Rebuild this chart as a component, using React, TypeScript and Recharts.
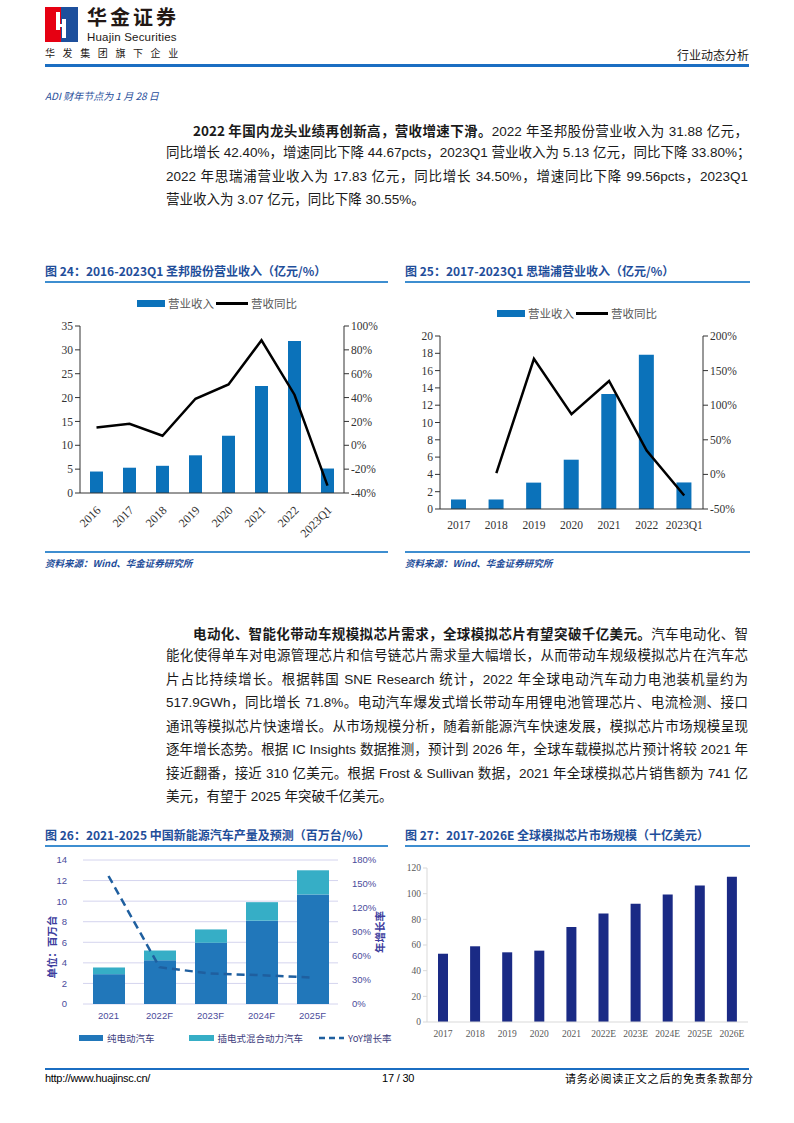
import React from 'react';
import { ComposedChart, BarChart, Bar, Line, XAxis, YAxis, CartesianGrid } from 'recharts';

// 图24 圣邦股份
const sgYears = ['2016', '2017', '2018', '2019', '2020', '2021', '2022', '2023Q1'];
const sgRevenue = [4.5, 5.3, 5.7, 7.9, 12.0, 22.4, 31.88, 5.13];
const sgYoy = [15, 18, 8, 39, 51, 88, 42.4, -33.8];

// 图25 思瑞浦
const srpYears = ['2017', '2018', '2019', '2020', '2021', '2022', '2023Q1'];
const srpRevenue = [1.1, 1.1, 3.05, 5.7, 13.3, 17.83, 3.07];
const srpYoy = [null, 2, 167, 87, 135, 34.5, -30.55];

// 图26 新能源汽车产量
const evYears = ['2021', '2022F', '2023F', '2024F', '2025F'];
const evBev = [2.9, 4.25, 5.95, 8.1, 10.65];
const evPhev = [0.65, 0.95, 1.3, 1.8, 2.35];
const evYoy = [160, 46, 38, 36, 33];

// 图27 全球模拟芯片市场
const anaYears = ['2017', '2018', '2019', '2020', '2021', '2022E', '2023E', '2024E', '2025E', '2026E'];
const anaSize = [53.2, 59.0, 54.3, 55.6, 74.1, 84.5, 92.1, 99.4, 106.4, 113.2];

const sgTicksL = [0, 5, 10, 15, 20, 25, 30, 35];
const sgTicksR = [-40, -20, 0, 20, 40, 60, 80, 100];
const srpTicksL = [0, 2, 4, 6, 8, 10, 12, 14, 16, 18, 20];
const srpTicksR = [-50, 0, 50, 100, 150, 200];
const evTicksL = [0, 2, 4, 6, 8, 10, 12, 14];
const evTicksR = [0, 30, 60, 90, 120, 150, 180];
const anaTicks = [0, 20, 40, 60, 80, 100, 120];

const sgData = sgYears.map((y, i) => ({ year: y, rev: sgRevenue[i], yoy: sgYoy[i] }));
const srpData = srpYears.map((y, i) => ({ year: y, rev: srpRevenue[i], yoy: srpYoy[i] }));
const evData = evYears.map((y, i) => ({ year: y, bev: evBev[i], phev: evPhev[i], yoy: evYoy[i] }));
const anaData = anaYears.map((y, i) => ({ year: y, size: anaSize[i] }));

const SANS = '"Liberation Sans", Arial, "Noto Sans CJK SC", sans-serif';
const SERIF = '"Liberation Serif", "Times New Roman", serif';
const CJK = '"Noto Sans CJK SC", "Liberation Sans", sans-serif';
const TITLE_BLUE = '#1F4E9A';
const LINE_BLUE = '#3E8ED0';

const pct = (v: number) => `${v}%`;

const SlantTick = (props: any) => {
  const { x, y, payload } = props;
  return (
    <text
      transform={`translate(${x + 5},${y + 10}) rotate(-45)`}
      textAnchor="end"
      fontSize={12}
      fontFamily={SERIF}
      fill="#333"
    >
      {payload.value}
    </text>
  );
};

const abs = (left: number, top: number, extra: React.CSSProperties = {}): React.CSSProperties => ({
  position: 'absolute',
  left,
  top,
  ...extra,
});

function Line1({ top, children, indent = 0, last = false }: any) {
  return (
    <div
      style={abs(166, top, {
        width: 582,
        height: 20,
        lineHeight: '20px',
        fontSize: 13.5,
        fontFamily: SANS,
        color: '#1a1a1a',
        textAlign: 'justify',
        textAlignLast: last ? 'left' : 'justify',
        paddingLeft: indent,
        boxSizing: 'border-box',
        whiteSpace: 'nowrap',
      })}
    >
      {children}
    </div>
  );
}

function ChartTitle({ left, top, width, text }: any) {
  return (
    <>
      <div
        style={abs(left, top, {
          fontSize: 12,
          fontFamily: CJK,
          fontWeight: 700,
          color: TITLE_BLUE,
          whiteSpace: 'nowrap',
          lineHeight: '14px',
        })}
      >
        {text}
      </div>
      <div style={abs(left, top + 17, { width, height: 2, background: LINE_BLUE })} />
    </>
  );
}

function Source({ left, top, width }: any) {
  return (
    <>
      <div style={abs(left, top, { width, height: 2, background: LINE_BLUE })} />
      <div
        style={abs(left, top + 6, {
          fontSize: 9.5,
          fontStyle: 'italic',
          fontWeight: 700,
          fontFamily: CJK,
          color: TITLE_BLUE,
          whiteSpace: 'nowrap',
          lineHeight: '12px',
        })}
      >
        资料来源：Wind、华金证券研究所
      </div>
    </>
  );
}

function RevLegend({ left, top }: any) {
  const txt: React.CSSProperties = { fontSize: 11.5, fontFamily: CJK, color: '#595959', lineHeight: '14px' };
  return (
    <div style={abs(left, top, { display: 'flex', alignItems: 'center', whiteSpace: 'nowrap' })}>
      <div style={{ width: 28, height: 7, background: '#0B72BA', marginRight: 3 }} />
      <span style={txt}>营业收入</span>
      <div style={{ width: 32, height: 3, background: '#000', margin: '0 3px 0 2px' }} />
      <span style={txt}>营收同比</span>
    </div>
  );
}

export default function App() {
  return (
    <div
      style={{
        position: 'absolute',
        left: 0,
        top: 0,
        width: 794,
        height: 1123,
        background: '#fff',
        overflow: 'hidden',
        fontFamily: SANS,
      }}
    >
      {/* header */}
      <svg style={abs(45, 7)} width={33} height={35}>
        <rect x={0} y={0} width={16} height={35} fill="#E60012" />
        <rect x={16} y={0} width={17} height={35} fill="#1D4F9C" />
        <rect x={11} y={5} width={4} height={18} fill="#fff" />
        <rect x={11} y={17} width={10} height={3} fill="#fff" />
        <rect x={17} y={12} width={4} height={19} fill="#fff" />
      </svg>
      <div style={abs(87, 6, { fontSize: 20, fontWeight: 700, fontFamily: CJK, color: '#231815', lineHeight: '22px', letterSpacing: 3 })}>
        华金证券
      </div>
      <div style={abs(87, 31, { fontSize: 11.5, fontFamily: SANS, color: '#231815', lineHeight: '12px', letterSpacing: 0.2 })}>
        Huajin Securities
      </div>
      <div style={abs(45, 47, { fontSize: 10, fontFamily: CJK, color: '#231815', lineHeight: '12px', letterSpacing: 7.6 })}>
        华发集团旗下企业
      </div>
      <div style={abs(677, 48, { fontSize: 12, fontFamily: CJK, color: '#231815', lineHeight: '14px' })}>行业动态分析</div>
      <div style={abs(45, 64, { width: 704, height: 2.5, background: '#1B6EC2' })} />
      <div style={abs(45, 90, { fontSize: 10, fontStyle: 'italic', fontFamily: CJK, color: TITLE_BLUE, lineHeight: '12px' })}>
        ADI 财年节点为 1 月 28 日
      </div>

      {/* paragraph 1 */}
      <Line1 top={120} indent={27}>
        <b style={{ fontFamily: CJK }}>2022 年国内龙头业绩再创新高，营收增速下滑。</b>2022 年圣邦股份营业收入为 31.88 亿元，
      </Line1>
      <Line1 top={143}>同比增长 42.40%，增速同比下降 44.67pcts，2023Q1 营业收入为 5.13 亿元，同比下降 33.80%；</Line1>
      <Line1 top={167}>2022 年思瑞浦营业收入为 17.83 亿元，同比增长 34.50%，增速同比下降 99.56pcts，2023Q1</Line1>
      <Line1 top={190} last>
        营业收入为 3.07 亿元，同比下降 30.55%。
      </Line1>

      {/* chart 24 */}
      <ChartTitle left={45} top={264} width={343} text="图 24：2016-2023Q1 圣邦股份营业收入（亿元/%）" />
      <RevLegend left={137} top={296} />
      <div style={abs(30, 290)}>
        <ComposedChart width={364} height={250} data={sgData} margin={{ top: 36, right: 0, left: 0, bottom: 0 }}>
          <XAxis
            dataKey="year"
            height={47}
            interval={0}
            tickLine={false}
            axisLine={{ stroke: '#333' }}
            tick={<SlantTick />}
          />
          <YAxis
            yAxisId="l"
            width={50}
            domain={[0, 35]}
            ticks={sgTicksL}
            interval={0}
            tickSize={5}
            axisLine={{ stroke: '#333' }}
            tickLine={{ stroke: '#333' }}
            tick={{ fontSize: 11.5, fontFamily: SERIF, fill: '#333' }}
          />
          <YAxis
            yAxisId="r"
            orientation="right"
            width={50}
            domain={[-40, 100]}
            ticks={sgTicksR}
            interval={0}
            tickSize={5}
            tickFormatter={pct}
            axisLine={{ stroke: '#333' }}
            tickLine={{ stroke: '#333' }}
            tick={{ fontSize: 11.5, fontFamily: SERIF, fill: '#333' }}
          />
          <Bar yAxisId="l" dataKey="rev" fill="#0B72BA" barSize={13} isAnimationActive={false} />
          <Line
            yAxisId="r"
            dataKey="yoy"
            stroke="#000"
            strokeWidth={2.5}
            dot={false}
            type="linear"
            isAnimationActive={false}
          />
        </ComposedChart>
      </div>
      <Source left={45} top={551} width={343} />

      {/* chart 25 */}
      <ChartTitle left={405} top={264} width={345} text="图 25：2017-2023Q1 思瑞浦营业收入（亿元/%）" />
      <RevLegend left={497} top={306} />
      <div style={abs(390, 320)}>
        <ComposedChart width={363} height={219} data={srpData} margin={{ top: 16, right: 0, left: 0, bottom: 0 }}>
          <XAxis
            dataKey="year"
            height={30}
            interval={0}
            tickLine={false}
            tickMargin={6}
            axisLine={{ stroke: '#333' }}
            tick={{ fontSize: 11.5, fontFamily: SERIF, fill: '#333' }}
          />
          <YAxis
            yAxisId="l"
            width={50}
            domain={[0, 20]}
            ticks={srpTicksL}
            interval={0}
            tickSize={5}
            axisLine={{ stroke: '#333' }}
            tickLine={{ stroke: '#333' }}
            tick={{ fontSize: 11.5, fontFamily: SERIF, fill: '#333' }}
          />
          <YAxis
            yAxisId="r"
            orientation="right"
            width={50}
            domain={[-50, 200]}
            ticks={srpTicksR}
            interval={0}
            tickSize={5}
            tickFormatter={pct}
            axisLine={{ stroke: '#333' }}
            tickLine={{ stroke: '#333' }}
            tick={{ fontSize: 11.5, fontFamily: SERIF, fill: '#333' }}
          />
          <Bar yAxisId="l" dataKey="rev" fill="#0B72BA" barSize={15} isAnimationActive={false} />
          <Line
            yAxisId="r"
            dataKey="yoy"
            stroke="#000"
            strokeWidth={2.5}
            dot={false}
            type="linear"
            isAnimationActive={false}
          />
        </ComposedChart>
      </div>
      <Source left={405} top={551} width={345} />

      {/* paragraph 2 */}
      <Line1 top={623} indent={27}>
        <b style={{ fontFamily: CJK }}>电动化、智能化带动车规模拟芯片需求，全球模拟芯片有望突破千亿美元。</b>汽车电动化、智
      </Line1>
      <Line1 top={646}>能化使得单车对电源管理芯片和信号链芯片需求量大幅增长，从而带动车规级模拟芯片在汽车芯</Line1>
      <Line1 top={670}>片占比持续增长。根据韩国 SNE Research 统计，2022 年全球电动汽车动力电池装机量约为</Line1>
      <Line1 top={693}>517.9GWh，同比增长 71.8%。电动汽车爆发式增长带动车用锂电池管理芯片、电流检测、接口</Line1>
      <Line1 top={717}>通讯等模拟芯片快速增长。从市场规模分析，随着新能源汽车快速发展，模拟芯片市场规模呈现</Line1>
      <Line1 top={740}>逐年增长态势。根据 IC Insights 数据推测，预计到 2026 年，全球车载模拟芯片预计将较 2021 年</Line1>
      <Line1 top={764}>接近翻番，接近 310 亿美元。根据 Frost &amp; Sullivan 数据，2021 年全球模拟芯片销售额为 741 亿</Line1>
      <Line1 top={787} last>
        美元，有望于 2025 年突破千亿美元。
      </Line1>

      {/* chart 26 */}
      <ChartTitle left={45} top={828} width={343} text="图 26：2021-2025 中国新能源汽车产量及预测（百万台/%）" />
      <div style={abs(30, 845)}>
        <ComposedChart width={363} height={184} data={evData} margin={{ top: 15, right: 0, left: 0, bottom: 0 }}>
          <CartesianGrid yAxisId="l" vertical={false} stroke="#D4D4EE" />
          <XAxis
            dataKey="year"
            height={25}
            interval={0}
            tickLine={false}
            axisLine={false}
            tick={{ fontSize: 9.5, fontFamily: SANS, fill: '#4B4B9B' }}
          />
          <YAxis
            yAxisId="l"
            width={53}
            domain={[0, 14]}
            ticks={evTicksL}
            interval={0}
            axisLine={false}
            tickLine={false}
            tickMargin={10}
            tick={{ fontSize: 9.5, fontFamily: SANS, fill: '#4B4B9B' }}
            label={{
              content: (p: any) => {
                const vb = p.viewBox;
                return (
                  <text
                    transform={`translate(${vb.x + 26},${vb.y + vb.height / 2 + 15}) rotate(-90)`}
                    textAnchor="middle"
                    fontSize={10.5}
                    fontWeight={700}
                    fontFamily={CJK}
                    fill="#3E3E9E"
                  >
                    单位：百万台
                  </text>
                );
              },
            }}
          />
          <YAxis
            yAxisId="r"
            orientation="right"
            width={55}
            domain={[0, 180]}
            ticks={evTicksR}
            interval={0}
            axisLine={false}
            tickLine={false}
            tickMargin={8}
            tickFormatter={pct}
            tick={{ fontSize: 9.5, fontFamily: SANS, fill: '#4B4B9B' }}
            label={{
              content: (p: any) => {
                const vb = p.viewBox;
                return (
                  <text
                    transform={`translate(${vb.x + 46},${vb.y + vb.height / 2}) rotate(-90)`}
                    textAnchor="middle"
                    fontSize={10.5}
                    fontWeight={700}
                    fontFamily={CJK}
                    fill="#3E3E9E"
                  >
                    年增长率
                  </text>
                );
              },
            }}
          />
          <Bar yAxisId="l" dataKey="bev" stackId="s" fill="#2177BA" barSize={32} isAnimationActive={false} />
          <Bar yAxisId="l" dataKey="phev" stackId="s" fill="#36AEC6" barSize={32} isAnimationActive={false} />
          <Line
            yAxisId="r"
            dataKey="yoy"
            stroke="#1F5F9F"
            strokeWidth={2.5}
            strokeDasharray="8 5"
            dot={false}
            type="linear"
            isAnimationActive={false}
          />
        </ComposedChart>
      </div>
      <div style={abs(79, 1032, { display: 'flex', alignItems: 'center', whiteSpace: 'nowrap', fontSize: 9.5, fontFamily: CJK, color: '#3E3E7E', lineHeight: '12px' })}>
        <div style={{ width: 24, height: 6, background: '#2177BA', marginRight: 4 }} />
        <span style={{ marginRight: 34 }}>纯电动汽车</span>
        <div style={{ width: 25, height: 6, background: '#36AEC6', marginRight: 4 }} />
        <span style={{ marginRight: 16 }}>插电式混合动力汽车</span>
        <svg width={25} height={6} style={{ marginRight: 4 }}>
          <line x1={0} y1={3} x2={25} y2={3} stroke="#1F5F9F" strokeWidth={2.5} strokeDasharray="6 4" />
        </svg>
        <span>YoY增长率</span>
      </div>

      {/* chart 27 */}
      <ChartTitle left={405} top={828} width={345} text="图 27：2017-2026E 全球模拟芯片市场规模（十亿美元）" />
      <div style={abs(377, 850)}>
        <BarChart width={373} height={192} data={anaData} margin={{ top: 18, right: 2, left: 0, bottom: 0 }}>
          <XAxis
            dataKey="year"
            height={20}
            interval={0}
            tickLine={false}
            axisLine={{ stroke: '#D9D9D9' }}
            tick={{ fontSize: 9.5, fontFamily: SERIF, fill: '#595959' }}
          />
          <YAxis
            width={50}
            domain={[0, 120]}
            ticks={anaTicks}
            interval={0}
            tickSize={4}
            axisLine={{ stroke: '#D9D9D9' }}
            tickLine={{ stroke: '#D9D9D9' }}
            tick={{ fontSize: 9.5, fontFamily: SERIF, fill: '#595959' }}
          />
          <Bar dataKey="size" fill="#1A2A85" barSize={10} isAnimationActive={false} />
        </BarChart>
      </div>

      {/* footer */}
      <div style={abs(45, 1068, { width: 704, height: 1.5, background: '#1B6EC2' })} />
      <div style={abs(45, 1072, { fontSize: 11, fontFamily: SANS, color: '#000', lineHeight: '13px', letterSpacing: -0.3 })}>
        http://www.huajinsc.cn/
      </div>
      <div style={abs(382, 1072, { fontSize: 11, fontFamily: SANS, color: '#000', lineHeight: '13px', letterSpacing: -0.2 })}>
        17 / 30
      </div>
      <div style={abs(565, 1072, { fontSize: 11, fontFamily: CJK, color: '#000', lineHeight: '13px', letterSpacing: 0.8 })}>
        请务必阅读正文之后的免责条款部分
      </div>
    </div>
  );
}
